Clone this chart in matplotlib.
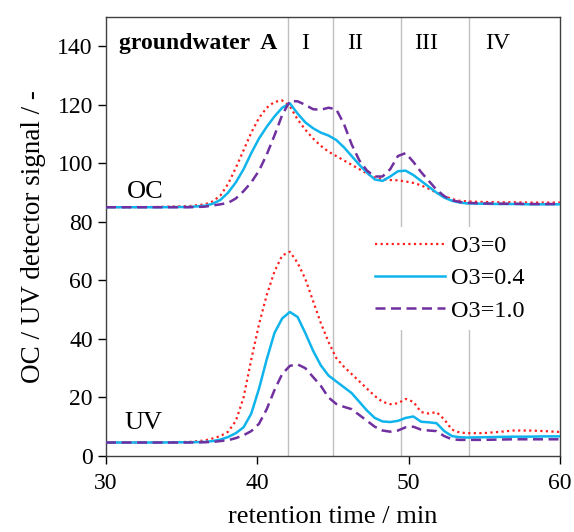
import matplotlib
matplotlib.use('Agg')
from matplotlib import pyplot as plt

plt.rcParams['font.family'] = ['Liberation Serif', 'DejaVu Serif']

# retention time (min) of the read points
t = [30.0, 31.44, 33.48, 35.52, 36.54, 37.05, 37.56, 38.07, 38.58, 39.09, 39.6,
     40.11, 40.62, 41.13, 41.64, 42.15, 42.66, 43.17, 43.68, 44.19, 44.7, 45.21,
     45.72, 46.23, 46.74, 47.25, 47.76, 48.27, 48.78, 49.29, 49.8, 50.31, 50.82,
     51.33, 51.84, 52.35, 52.86, 53.37, 53.88, 54.9, 55.92, 56.94, 57.96, 58.98, 60.0]

# OC signal
oc_0 = [85.0, 85.0, 85.1, 85.4, 86.0, 87.0, 89.0, 93.0, 98.5, 104.5, 110.5, 115.5,
        119.0, 121.0, 121.5, 119.5, 115.0, 111.5, 108.5, 106.0, 104.0, 102.5, 101.0,
        99.5, 98.0, 96.5, 95.2, 94.5, 94.3, 94.2, 93.8, 93.3, 92.5, 91.3, 90.0, 88.8,
        87.8, 87.2, 87.0, 86.8, 86.7, 86.7, 86.6, 86.6, 86.6]
oc_04 = [85.0, 85.0, 85.0, 85.1, 85.5, 86.2, 87.5, 90.0, 93.5, 98.0, 103.5, 108.5,
         112.5, 116.0, 119.0, 120.5, 117.0, 114.0, 112.0, 110.5, 109.5, 108.0, 105.5,
         102.5, 99.5, 96.8, 94.5, 94.0, 95.5, 97.3, 97.5, 96.0, 94.0, 92.0, 90.0, 88.3,
         87.2, 86.6, 86.3, 86.2, 86.1, 86.1, 86.0, 86.0, 86.0]
oc_10 = [85.0, 85.0, 85.0, 85.0, 85.2, 85.6, 86.0, 86.5, 88.0, 90.5, 93.5, 97.5,
         103.0, 109.5, 116.5, 121.3, 121.2, 120.0, 118.5, 118.3, 119.0, 118.5, 113.5,
         106.5, 101.0, 97.5, 95.5, 95.5, 98.0, 102.5, 103.5, 100.5, 97.0, 94.0, 91.0,
         88.8, 87.4, 86.8, 86.5, 86.3, 86.2, 86.2, 86.1, 86.1, 86.1]

# UV signal
uv_0 = [4.6, 4.6, 4.7, 4.8, 5.3, 6.0, 6.8, 8.3, 12.0, 20.0, 33.0, 45.0, 55.0, 63.0,
        68.5, 69.8, 66.0, 60.5, 53.0, 45.5, 39.0, 33.5, 30.5, 28.0, 25.5, 23.0, 20.5,
        18.5, 17.7, 18.0, 19.5, 18.5, 15.0, 14.5, 15.0, 12.5, 9.0, 8.0, 7.8, 7.8, 8.2,
        8.7, 8.7, 8.5, 8.2]
uv_04 = [4.6, 4.6, 4.6, 4.7, 4.8, 5.1, 5.6, 6.5, 7.8, 9.8, 14.5, 23.0, 33.0, 42.0,
         47.0, 49.2, 47.5, 42.0, 36.0, 31.0, 27.5, 25.5, 23.5, 21.5, 18.5, 15.5, 13.0,
         11.8, 11.6, 12.0, 13.0, 13.5, 11.7, 11.5, 11.2, 8.5, 6.8, 6.4, 6.3, 6.4, 6.5,
         6.6, 6.6, 6.7, 6.7]
uv_10 = [4.6, 4.6, 4.6, 4.6, 4.7, 4.8, 5.1, 5.4, 6.1, 7.1, 8.5, 11.0, 16.0, 22.5,
         28.0, 30.8, 31.3, 30.0, 27.0, 24.0, 20.0, 17.8, 16.8, 16.0, 14.0, 12.0, 10.0,
         8.7, 8.3, 8.7, 9.8, 10.0, 9.0, 8.7, 8.5, 6.8, 5.7, 5.5, 5.5, 5.5, 5.6, 5.7,
         5.7, 5.7, 5.7]

fractions = [42, 45, 49.5, 54]
fraction_labels = ['I', 'II', 'III', 'IV']
fraction_label_x = [43.15, 46.45, 51.15, 55.85]

red = '#FF2020'
blue = '#10B4EC'
purple = '#7030A0'

fig = plt.figure(figsize=(5.74, 5.32), dpi=100)
ax = fig.add_axes([0.1847, 0.1429, 0.7909, 0.8251])

for f in fractions:
    ax.axvline(f, color='#C0C0C0', lw=1.0, zorder=1)

l0, = ax.plot(t, oc_0, color=red, ls=(0, (1, 1.5)), lw=1.6, zorder=3)
l1, = ax.plot(t, oc_04, color=blue, ls='-', lw=1.8, zorder=3)
l2, = ax.plot(t, oc_10, color=purple, ls=(0, (4, 2.2)), lw=1.8, zorder=3)
ax.plot(t, uv_0, color=red, ls=(0, (1, 1.5)), lw=1.6, zorder=3)
ax.plot(t, uv_04, color=blue, ls='-', lw=1.8, zorder=3)
ax.plot(t, uv_10, color=purple, ls=(0, (4, 2.2)), lw=1.8, zorder=3)

ax.set_xlim(30, 60)
ax.set_ylim(0, 150)
ax.set_xticks([30, 40, 50, 60])
ax.set_yticks(range(0, 141, 20))
ax.tick_params(labelsize=17, direction='out', length=6, width=1, colors='black')
ax.tick_params(axis='x', pad=6)
for s in ax.spines.values():
    s.set_color('#404040')
    s.set_linewidth(1.0)

ax.set_xlabel('retention time / min', fontsize=19, labelpad=9)
ax.set_ylabel('OC / UV detector signal / -', fontsize=19.5, labelpad=8)

ax.text(36.08, 140.9, 'groundwater  A', fontsize=17, fontweight='bold',
        ha='center', va='center', zorder=4)
for x, lab in zip(fraction_label_x, fraction_labels):
    ax.text(x, 140.9, lab, fontsize=17, ha='center', va='center', zorder=4)
ax.text(32.58, 90.3, 'OC', fontsize=19, ha='center', va='center', zorder=4)
ax.text(32.48, 11.3, 'UV', fontsize=19, ha='center', va='center', zorder=4)

leg = ax.legend([l0, l1, l2], ['O3=0', 'O3=0.4', 'O3=1.0'],
                loc='upper left', bbox_to_anchor=(0.546, 0.55), fontsize=17.5,
                frameon=True, framealpha=1, facecolor='white', edgecolor='none',
                handlelength=2.9, handletextpad=0.25, labelspacing=0.42,
                borderpad=0.35, fancybox=False)
leg.set_zorder(5)

fig.savefig('out.png', dpi=100)
